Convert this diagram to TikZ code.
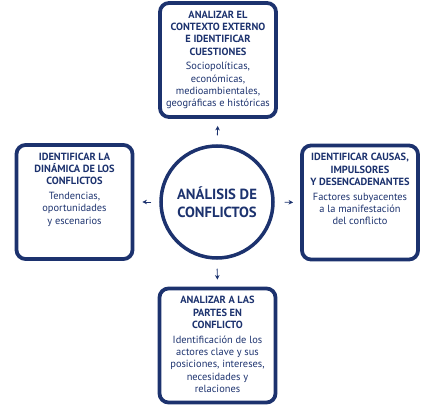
\documentclass[tikz,border=0pt]{standalone}
\usepackage{fontspec}
\setmainfont{PT Sans}
\usetikzlibrary{arrows.meta}
\definecolor{navy}{RGB}{28,50,110}
\tikzset{
  box/.style={draw=navy, line width=3.8pt, rounded corners=9pt, minimum width=116pt, minimum height=114pt, inner sep=0pt},
  txt/.style={anchor=north, align=center, text=navy, inner sep=0pt, font=\fontsize{10.4}{12.3}\selectfont},
  arr/.style={draw=navy, line width=0.9pt, -{Stealth[length=4.5pt,width=4.5pt]}}
}
\newcommand{\ttl}[1]{{\bfseries #1}}
\begin{document}
\begin{tikzpicture}[x=1pt,y=1pt]
\useasboundingbox (0,0) rectangle (434,405);
\node[draw=navy, line width=3.5pt, circle, minimum size=112pt, inner sep=0pt] (c) at (217,203) {};
\node[txt, anchor=center, font=\fontsize{14.7}{18}\selectfont\bfseries] (ct) at (c.center) {ANÁLISIS DE\\CONFLICTOS};
\node[box] (top) at (218,345) {};
\node[box] (left) at (74.5,203) {};
\node[box] (right) at (360,202.5) {};
\node[box] (bot) at (217.5,59.5) {};
\node[txt] (ttop) at ([yshift=-9.5pt]top.north) {\ttl{ANALIZAR EL}\\\ttl{CONTEXTO EXTERNO}\\\ttl{E IDENTIFICAR}\\\ttl{CUESTIONES}\\[2.5pt]Sociopolíticas,\\económicas,\\medioambientales,\\geográficas e históricas};
\node[txt] (tleft) at ([yshift=-9.5pt]left.north) {\ttl{IDENTIFICAR LA}\\\ttl{DINÁMICA DE LOS}\\\ttl{CONFLICTOS}\\[2.5pt]Tendencias,\\oportunidades\\y escenarios};
\node[txt] (tright) at ([yshift=-9.5pt]right.north) {\ttl{IDENTIFICAR CAUSAS,}\\\ttl{IMPULSORES}\\\ttl{Y DESENCADENANTES}\\[2.5pt]Factores subyacentes\\a la manifestación\\del conflicto};
\node[txt] (tbot) at ([yshift=-9.5pt]bot.north) {\ttl{ANALIZAR A LAS}\\\ttl{PARTES EN}\\\ttl{CONFLICTO}\\[2.5pt]Identificación de los\\actores clave y sus\\posiciones, intereses,\\necesidades y\\relaciones};
\draw[arr, shorten <=9pt, shorten >=7pt] (c.north) -- (top.south);
\draw[arr, shorten <=8pt, shorten >=8pt] (c.west) -- (left.east);
\draw[arr, shorten <=10pt, shorten >=7pt] (c.east) -- (right.west);
\draw[arr, shorten <=9pt, shorten >=7pt] (c.south) -- (bot.north);
\end{tikzpicture}
\end{document}
